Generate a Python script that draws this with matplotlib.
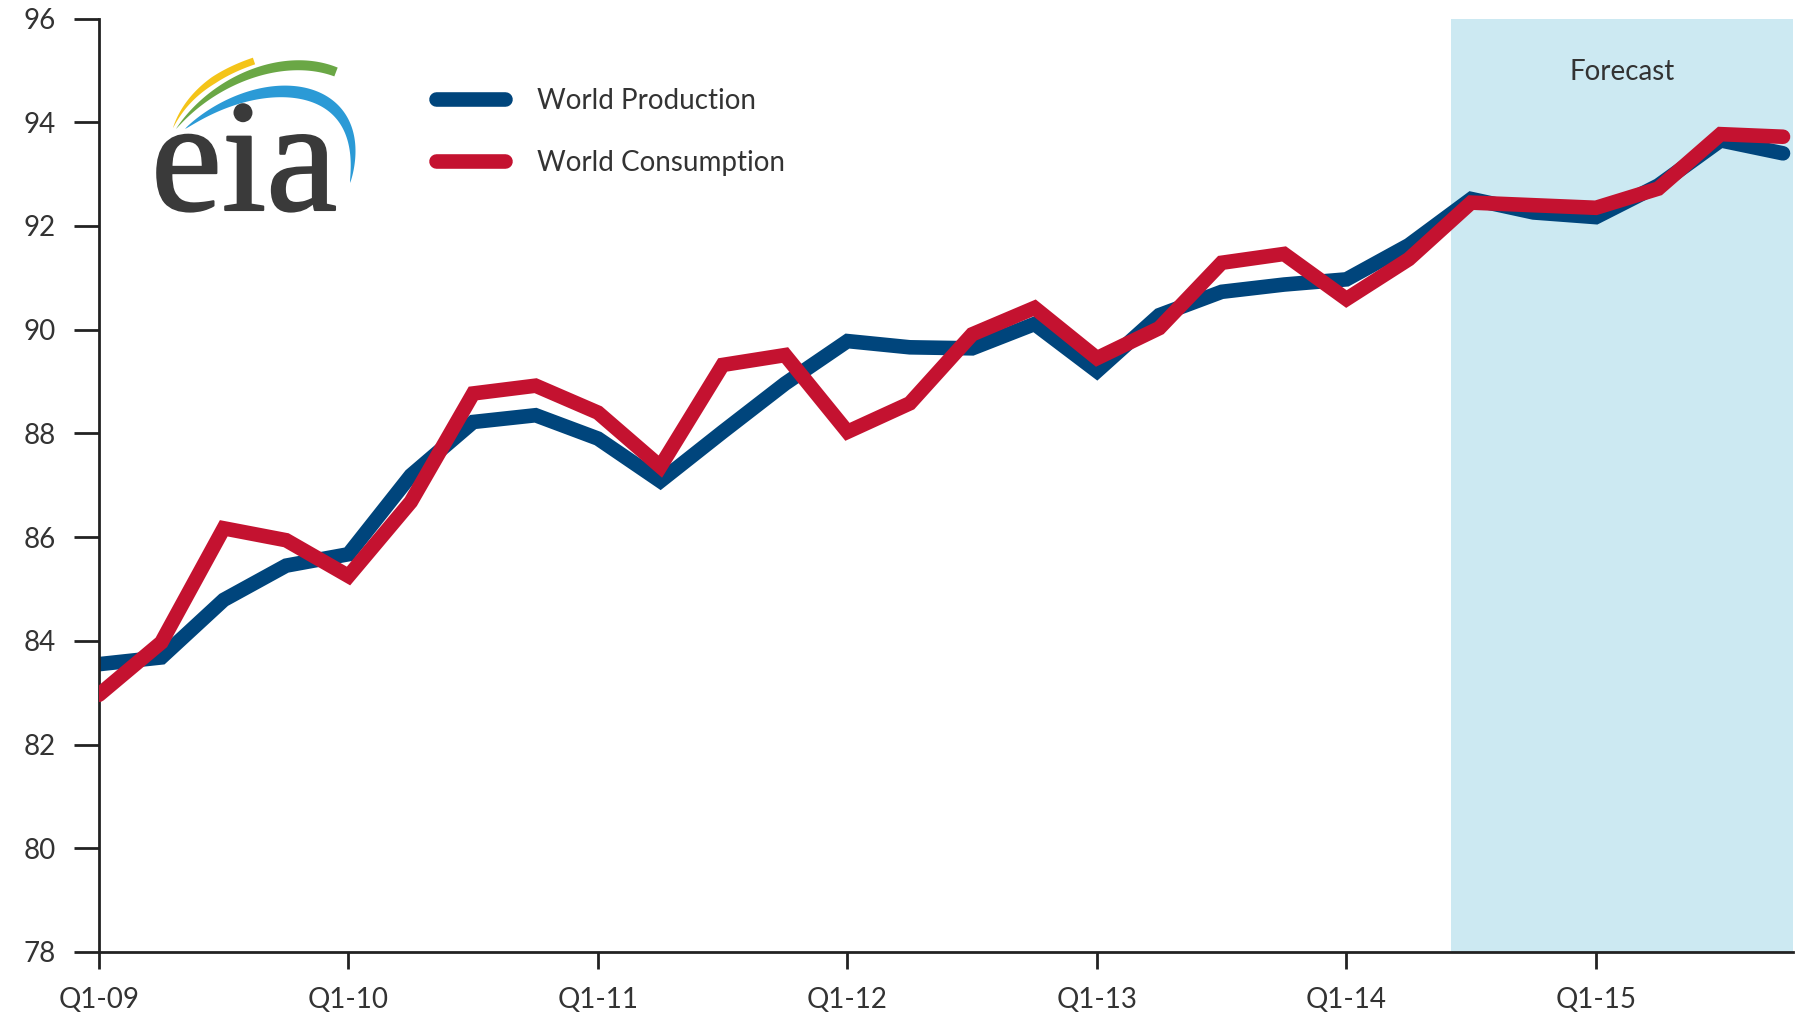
import numpy as np
import matplotlib
matplotlib.use("Agg")
import matplotlib.pyplot as plt
from matplotlib.lines import Line2D

plt.rcParams['font.family'] = ['Lato', 'DejaVu Sans']

# ---- data ----
quarters = np.arange(28)  # Q1-09 ... Q4-15
tick_pos = [0, 4, 8, 12, 16, 20, 24]
tick_labels = ["Q1-09", "Q1-10", "Q1-11", "Q1-12", "Q1-13", "Q1-14", "Q1-15"]
y_ticks = [78, 80, 82, 84, 86, 88, 90, 92, 94, 96]

production = [83.55, 83.68, 84.79, 85.45, 85.67, 87.19, 88.22, 88.35, 87.90, 87.08,
              88.03, 88.96, 89.78, 89.66, 89.64, 90.11, 89.20, 90.28, 90.73, 90.87,
              90.97, 91.63, 92.52, 92.26, 92.17, 92.78, 93.65, 93.40]
consumption = [82.96, 83.97, 86.17, 85.94, 85.25, 86.68, 88.77, 88.92, 88.40, 87.36,
               89.32, 89.51, 88.03, 88.58, 89.91, 90.42, 89.45, 90.03, 91.29, 91.46,
               90.59, 91.36, 92.45, 92.40, 92.35, 92.72, 93.77, 93.72]
forecast_start = 21.67
x_max = 27.16

BLUE = "#00457c"
RED = "#c41230"
TXT = "#333333"
FS = 20

W, H = 1801, 1014
fig = plt.figure(figsize=(W / 100, H / 100), dpi=100)
ax = fig.add_axes([99 / W, 1 - 952 / H, (1793 - 99) / W, (952 - 18.5) / H])

ax.axvspan(forecast_start, x_max, color="#cce9f2", zorder=0, lw=0)
ax.plot(quarters, production, color=BLUE, lw=10.5, solid_capstyle="round",
        solid_joinstyle="miter", zorder=2, label="World Production")
ax.plot(quarters, consumption, color=RED, lw=10.5, solid_capstyle="round",
        solid_joinstyle="miter", zorder=3, label="World Consumption")

ax.set_xlim(0, x_max)
ax.set_ylim(78, 96)
ax.set_xticks(tick_pos)
ax.set_xticklabels(tick_labels)
ax.set_yticks(y_ticks)
for s in ["top", "right"]:
    ax.spines[s].set_visible(False)
for s in ["left", "bottom"]:
    ax.spines[s].set_linewidth(2)
    ax.spines[s].set_color("#222222")
ax.tick_params(axis="y", length=18, width=2, color="#222222", pad=13,
               labelsize=FS, labelcolor=TXT)
ax.tick_params(axis="x", length=12, width=2, color="#222222", pad=13,
               labelsize=FS, labelcolor=TXT)
ax.set_facecolor("none")

ax.text((forecast_start + x_max) / 2, 94.97, "Forecast", ha="center", va="center",
        fontsize=FS, color=TXT)

handles = [Line2D([], [], color=BLUE, lw=10.5, solid_capstyle="round"),
           Line2D([], [], color=RED, lw=10.5, solid_capstyle="round")]
leg = ax.legend(handles, ["World Production", "World Consumption"],
                loc="upper left", bbox_to_anchor=(436 / W, 1 - 88 / H),
                bbox_transform=fig.transFigure, frameon=False, fontsize=FS,
                handlelength=2.5, handletextpad=1.15, labelspacing=1.3,
                borderpad=0, borderaxespad=0)
for t in leg.get_texts():
    t.set_color(TXT)

# ---- eia logo ----
lg = fig.add_axes([0, 0, 1, 1], zorder=5)
lg.set_xlim(0, W)
lg.set_ylim(H, 0)
lg.axis("off")
lg.patch.set_alpha(0)


def swoosh(p, wmax, profile, color):
    p = np.array(p, dtype=float)
    t = np.linspace(0, 1, 120)
    if len(p) == 3:
        c = ((1 - t) ** 2)[:, None] * p[0] + (2 * (1 - t) * t)[:, None] * p[1] + (t ** 2)[:, None] * p[2]
    else:
        c = (((1 - t) ** 3)[:, None] * p[0] + (3 * (1 - t) ** 2 * t)[:, None] * p[1]
             + (3 * (1 - t) * t ** 2)[:, None] * p[2] + (t ** 3)[:, None] * p[3])
    d = np.gradient(c, axis=0)
    n = np.stack([-d[:, 1], d[:, 0]], axis=1)
    n /= np.linalg.norm(n, axis=1)[:, None]
    w = wmax * profile(t) / 2
    a = c + n * w[:, None]
    b = c - n * w[:, None]
    poly = np.vstack([a, b[::-1]])
    lg.fill(poly[:, 0], poly[:, 1], color=color, lw=0)


swoosh([(173, 128), (192, 82), (254, 61)], 7, lambda t: np.clip(t * 1.6, 0, 1) ** 0.8, "#f4c419")
swoosh([(176, 129), (215, 78), (285, 52), (336, 72)], 10,
       lambda t: np.sin(np.pi * np.clip(t * 0.62, 0, 1)) ** 0.8, "#6aa745")
swoosh([(185, 129), (262, 68), (372, 78), (350, 183)], 12,
       lambda t: np.sin(np.pi * t) ** 0.7, "#2b9ad6")
lg.text(151, 210, "eia", ha="left", va="baseline", fontsize=115,
        family=["Liberation Serif", "DejaVu Serif"], color="#3a3a3a",
        path_effects=[__import__("matplotlib.patheffects", fromlist=["x"]).withStroke(linewidth=1.5, foreground="#3a3a3a")])

fig.savefig("out.png", dpi=100)
